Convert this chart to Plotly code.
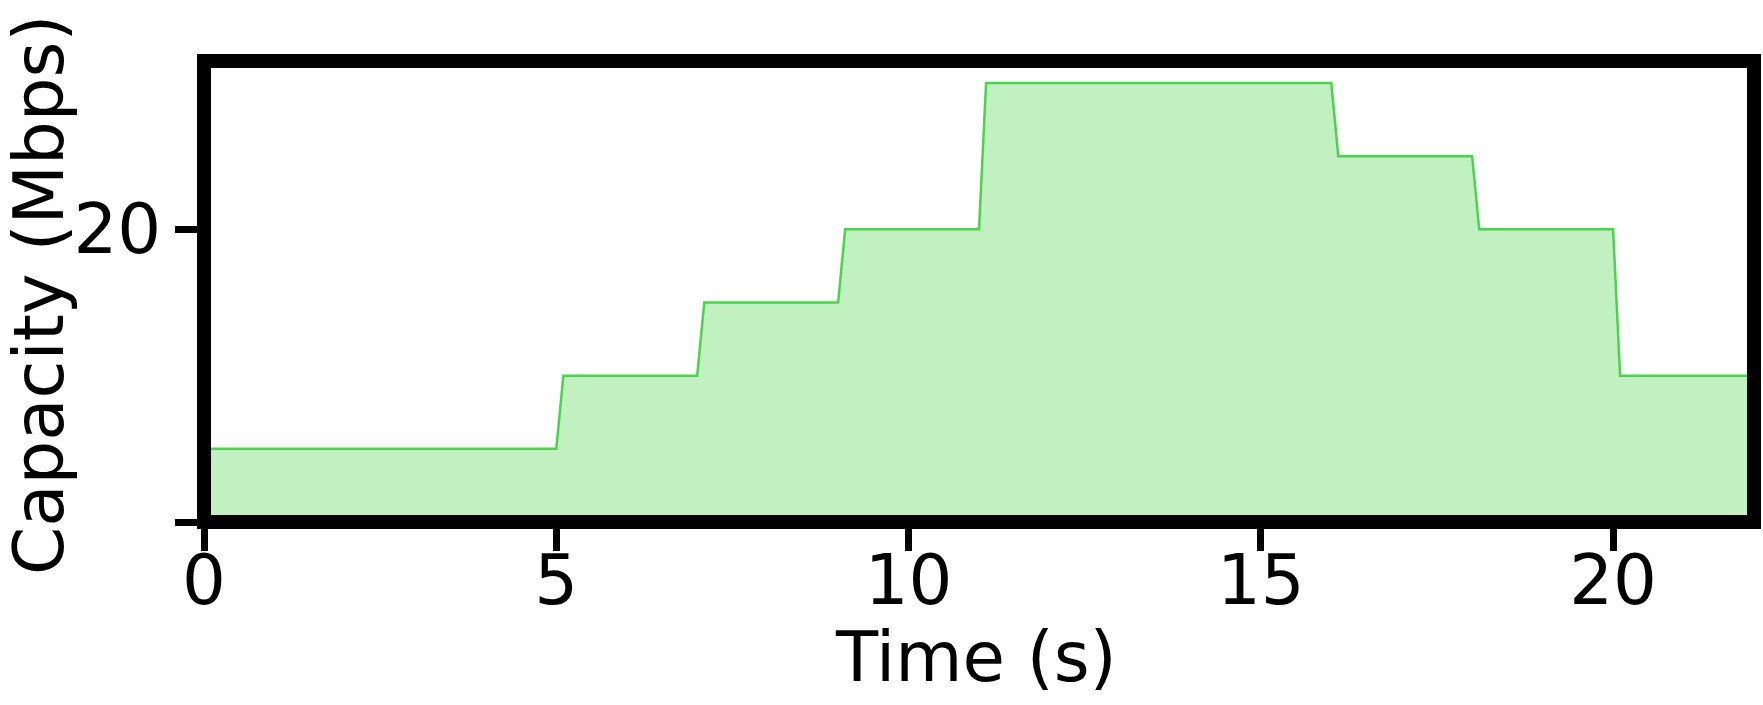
import plotly.graph_objects as go

# Data
time_s = [0, 5, 5.1, 7, 7.1, 9, 9.1, 11, 11.1, 16, 16.1, 18, 18.1, 20, 20.1, 22]
capacity_mbps = [5, 5, 10, 10, 15, 15, 20, 20, 30, 30, 25, 25, 20, 20, 10, 10]
x_ticks = [0, 5, 10, 15, 20]
y_ticks = [0, 20]
y_tick_labels = ["", "20"]

W, H = 1763, 705
ML, MR, MT, MB = 204, 9, 61, 183
PW = W - ML - MR
PH = H - MT - MB
FONT = "DejaVu Sans"
FS = 69

fig = go.Figure()
fig.add_trace(go.Scatter(
    x=time_s, y=capacity_mbps, mode="lines",
    line=dict(color="rgba(50,205,50,0.85)", width=2.5),
    fill="tozeroy", fillcolor="rgba(50,205,50,0.3)",
    showlegend=False, hoverinfo="skip",
))

axis_common = dict(
    showgrid=False, zeroline=False, showline=False,
    ticks="outside", ticklen=28, tickwidth=7, tickcolor="black",
    tickfont=dict(family=FONT, size=FS, color="black"),
    automargin=False,
)
fig.update_xaxes(range=[0, 22], tickmode="array", tickvals=x_ticks,
                 ticklabelstandoff=-30, **axis_common)
fig.update_yaxes(range=[0, 31.5], tickmode="array", tickvals=y_ticks,
                 ticktext=y_tick_labels, **axis_common)

fig.add_shape(type="rect", xref="paper", yref="paper", x0=0, x1=1, y0=0, y1=1,
              line=dict(color="black", width=14), fillcolor="rgba(0,0,0,0)",
              layer="above")

def px_to_paper_x(px):
    return (px - ML) / PW

def px_to_paper_y(py):
    return (MT + PH - py) / PH

fig.add_annotation(text="Time (s)", xref="paper", yref="paper",
                   x=px_to_paper_x(976), y=px_to_paper_y(657),
                   xanchor="center", yanchor="middle", showarrow=False,
                   font=dict(family=FONT, size=FS, color="black"))
fig.add_annotation(text="Capacity (Mbps)", xref="paper", yref="paper",
                   x=px_to_paper_x(39), y=px_to_paper_y(295),
                   xanchor="center", yanchor="middle", showarrow=False,
                   textangle=-90,
                   font=dict(family=FONT, size=FS, color="black"))

fig.update_layout(
    width=W, height=H, autosize=False,
    margin=dict(l=ML, r=MR, t=MT, b=MB, pad=0),
    plot_bgcolor="white", paper_bgcolor="white",
    font=dict(family=FONT, size=FS, color="black"),
)

fig.write_html("out.html",
               config={"displayModeBar": False, "staticPlot": True},
               post_script="document.body.style.margin='0';document.body.style.overflow='hidden';")
